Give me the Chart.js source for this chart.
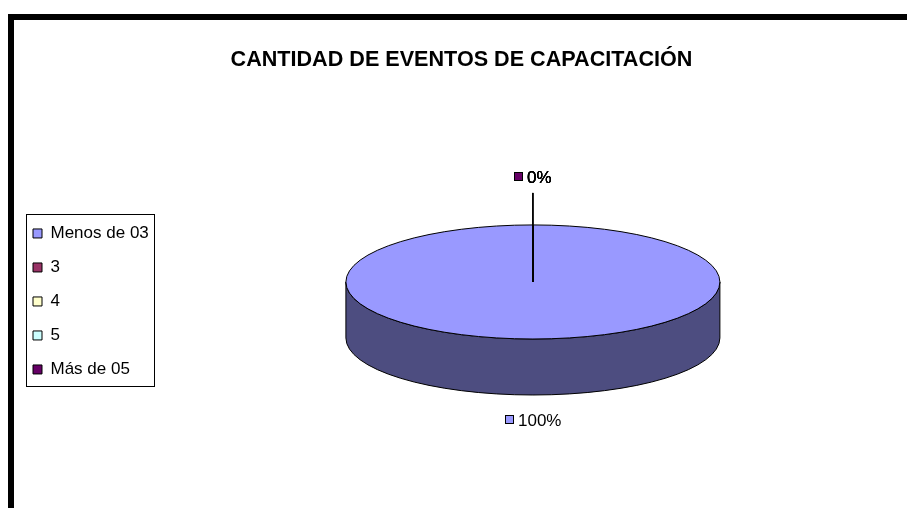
<!DOCTYPE html>
<html>
<head>
<meta charset="utf-8">
<script src="https://cdn.jsdelivr.net/npm/chart.js@4.4.0/dist/chart.umd.min.js"></script>
<style>
  html, body { margin: 0; padding: 0; background: #fff; overflow: hidden; }
  #marco { position: absolute; left: 8px; top: 14px; width: 920px; height: 520px;
           border-top: 6px solid #000; border-left: 6px solid #000; }
  #caja { position: absolute; left: 0; top: 0; width: 907px; height: 508px; }
</style>
</head>
<body>
<div id="marco"></div>
<div id="caja"><canvas id="grafico"></canvas></div>
<script>
const titulo = 'CANTIDAD DE EVENTOS DE CAPACITACIÓN';
const categorias = ['Menos de 03', '3', '4', '5', 'Más de 05'];
const porcentajes = [100, 0, 0, 0, 0];
const colores = ['#9999FF', '#993366', '#FFFFCC', '#CCFFFF', '#660066'];

Chart.defaults.font.family = '"Liberation Sans", Arial, sans-serif';
Chart.defaults.color = '#000';

// oscurece un color hex para la pared lateral
function oscurecer(hex, f) {
  const n = parseInt(hex.slice(1), 16);
  const r = Math.round(((n >> 16) & 255) * f);
  const g = Math.round(((n >> 8) & 255) * f);
  const b = Math.round((n & 255) * f);
  return `rgb(${r}, ${g}, ${b})`;
}

// pastel "3D": pared lateral + cara superior inclinada + etiquetas
const pastel3d = {
  id: 'pastel3d',
  beforeDatasetsDraw(chart, args, opts) {
    const arcos = chart.getDatasetMeta(0).data;
    const ctx = chart.ctx;
    ctx.save();
    if (!arcos.length) return;
    const { x: cx, y: cy, outerRadius: r } = arcos[0];
    const cyT = cy - opts.lift;
    const ry = r * opts.tilt;

    arcos.forEach((arco, i) => {
      const ventanas = [[0, Math.PI], [2 * Math.PI, 3 * Math.PI], [-2 * Math.PI, -Math.PI]];
      ventanas.forEach(([w0, w1]) => {
        const a0 = Math.max(arco.startAngle, w0);
        const a1 = Math.min(arco.endAngle, w1);
        if (a1 - a0 <= 0.0001) return;
        ctx.beginPath();
        ctx.ellipse(cx, cyT, r, ry, 0, a0, a1);
        ctx.ellipse(cx, cyT + opts.depth, r, ry, 0, a1, a0, true);
        ctx.closePath();
        ctx.fillStyle = oscurecer(colores[i], 0.5);
        ctx.fill();
        ctx.lineWidth = 1;
        ctx.strokeStyle = '#000';
        ctx.stroke();
      });
    });

    // inclinar la cara superior que dibuja Chart.js
    ctx.translate(0, cyT);
    ctx.scale(1, opts.tilt);
    ctx.translate(0, -cy);
  },
  afterDatasetsDraw(chart, args, opts) {
    const ctx = chart.ctx;
    ctx.restore();
    const arcos = chart.getDatasetMeta(0).data;
    if (!arcos.length) return;
    const { x: cx, y: cy, outerRadius: r } = arcos[0];
    const cyT = cy - opts.lift;
    const ry = r * opts.tilt;
    const datos = chart.data.datasets[0].data;
    const total = datos.reduce((a, b) => a + b, 0);

    ctx.save();
    ctx.lineWidth = 1;
    ctx.strokeStyle = '#000';
    ctx.beginPath();
    ctx.ellipse(cx, cyT, r, ry, 0, 0, Math.PI * 2);
    ctx.stroke();

    // bordes radiales de cada porción
    arcos.forEach(arco => {
      [arco.startAngle, arco.endAngle].forEach(a => {
        ctx.beginPath();
        ctx.moveTo(cx, cyT);
        ctx.lineTo(cx + r * Math.cos(a), cyT + ry * Math.sin(a));
        ctx.stroke();
      });
    });

    // etiquetas de porcentaje
    ctx.font = '17px "Liberation Sans", Arial, sans-serif';
    ctx.textBaseline = 'middle';
    ctx.textAlign = 'left';
    arcos.forEach((arco, i) => {
      const v = datos[i];
      const mid = (arco.startAngle + arco.endAngle) / 2;
      const dx = Math.cos(mid), dy = Math.sin(mid);
      const ex = cx + r * dx;
      const ey = cyT + ry * dy + (dy > 0 ? opts.depth : 0);
      const off = v === 0 ? opts.leaderOffset : opts.labelOffset;
      const lx = ex + dx * off;
      const ly = ey + dy * off;
      if (v === 0) {
        ctx.beginPath();
        ctx.moveTo(ex, ey);
        ctx.lineTo(lx - dx * 16, ly - dy * 16);
        ctx.stroke();
      }
      const txt = Math.round(v / total * 100) + '%';
      const tw = ctx.measureText(txt).width;
      const x0 = Math.round(lx - (9 + 4 + tw) / 2);
      const yb = Math.round(ly - 4.5);
      ctx.fillStyle = colores[i];
      ctx.fillRect(x0, yb, 9, 9);
      ctx.strokeRect(x0 + 0.5, yb + 0.5, 8, 8);
      ctx.fillStyle = '#000';
      ctx.fillText(txt, x0 + 13, ly + 1);
    });
    ctx.restore();
  },
  afterDraw(chart) {
    // recuadro de la leyenda
    const hb = chart.legend.legendHitBoxes;
    if (!hb || !hb.length) return;
    const ctx = chart.ctx;
    const izq = Math.min(...hb.map(h => h.left)) - 7;
    const der = Math.max(...hb.map(h => h.left + h.width)) + 5;
    const arr = hb[0].top - 11;
    const ult = hb[hb.length - 1];
    const aba = ult.top + ult.height + 8;
    ctx.save();
    ctx.lineWidth = 1;
    ctx.strokeStyle = '#000';
    ctx.strokeRect(Math.round(izq) + 0.5, Math.round(arr) + 0.5, Math.round(der - izq), Math.round(aba - arr));
    ctx.restore();
  }
};

const ctx = document.getElementById('grafico').getContext('2d');
new Chart(ctx, {
  type: 'pie',
  data: {
    labels: categorias,
    datasets: [{
      data: porcentajes,
      backgroundColor: colores,
      borderWidth: 0,
      radius: 187,
      clip: false
    }]
  },
  options: {
    responsive: true,
    maintainAspectRatio: false,
    animation: false,
    events: [],
    layout: { padding: { left: 16, right: 0, top: 37, bottom: 9 } },
    plugins: {
      title: {
        display: true,
        text: titulo,
        color: '#000',
        font: { size: 21.6, weight: 'bold' },
        padding: { top: 10, bottom: 31 }
      },
      legend: {
        position: 'left',
        fullSize: false,
        labels: {
          boxWidth: 9,
          boxHeight: 9,
          padding: 17,
          color: '#000',
          font: { size: 17 },
          generateLabels(chart) {
            const items = Chart.overrides.pie.plugins.legend.labels.generateLabels(chart);
            items.forEach(it => { it.strokeStyle = '#000'; it.lineWidth = 1; });
            return items;
          }
        }
      },
      tooltip: { enabled: false },
      pastel3d: { tilt: 0.305, depth: 56, lift: 19.5, labelOffset: 25, leaderOffset: 48 }
    }
  },
  plugins: [pastel3d]
});
</script>
</body>
</html>
